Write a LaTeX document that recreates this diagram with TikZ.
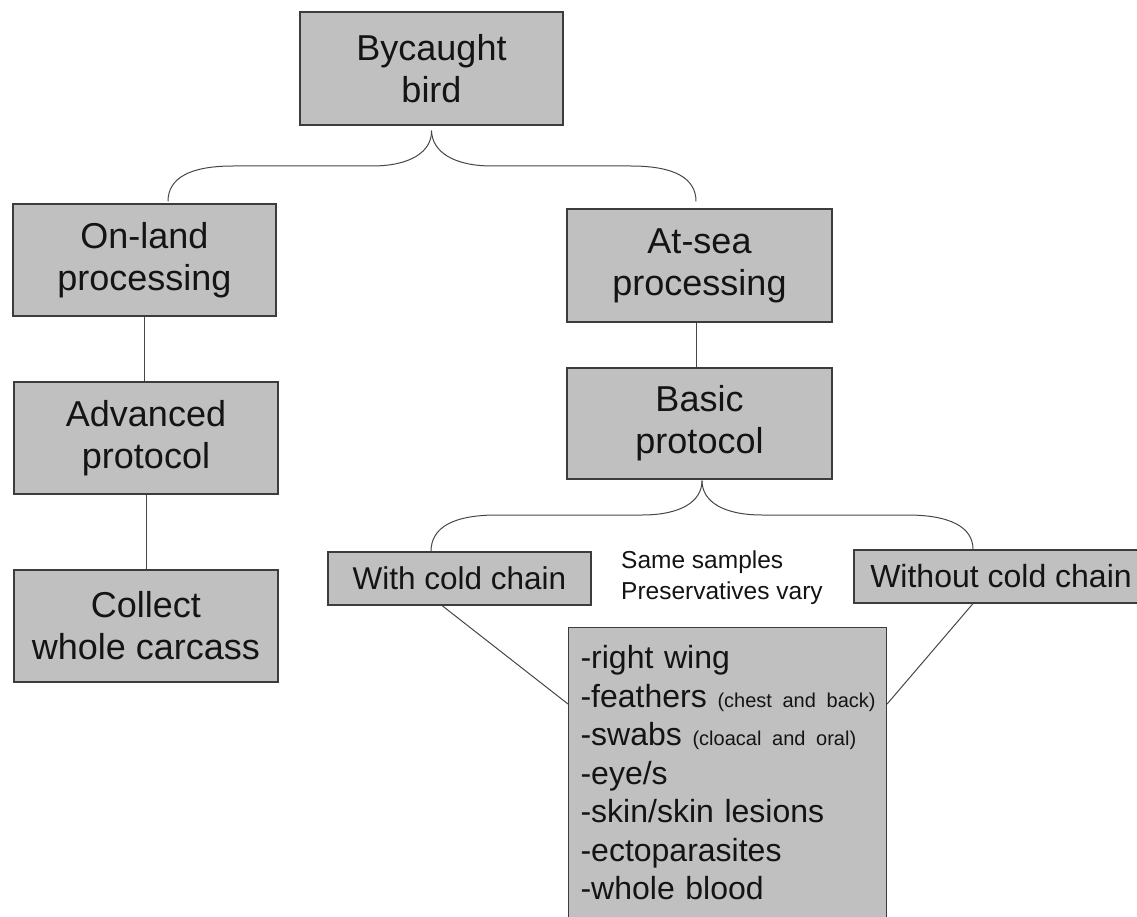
\documentclass[tikz,border=0pt]{standalone}
\usepackage{fontspec}
\setmainfont{Liberation Sans}
\usetikzlibrary{calc}
\definecolor{boxfill}{RGB}{192,192,192}
\definecolor{boxline}{RGB}{60,60,60}
\definecolor{connc}{RGB}{70,70,70}
\definecolor{textc}{RGB}{20,20,20}
\newcommand{\paren}[1]{{\fontsize{20}{20}\selectfont #1}}
\begin{document}
\begin{tikzpicture}[x=1pt,y=-1pt,
  box/.style={draw=boxline, fill=boxfill, line width=1.1pt, inner sep=0pt,
    align=center, text=textc, font=\fontsize{36}{42}\selectfont},
  smallbox/.style={box, font=\fontsize{31.5}{36}\selectfont, minimum height=53pt},
  conn/.style={draw=connc, line width=1pt},
  notetext/.style={inner sep=0pt, align=left, text=textc, font=\fontsize{24.5}{31}\selectfont}]
\useasboundingbox (0,0) rectangle (1137,917);
\clip (0,0) rectangle (1137,917);

% boxes
\node[box, minimum width=263pt, minimum height=113pt] (bird) at (431.5,68.5) {Bycaught\\bird};
\node[box, minimum width=263pt, minimum height=112pt] (onland) at (144.5,260) {On-land\\processing};
\node[box, minimum width=264pt, minimum height=112pt] (adv) at (146,438) {Advanced\\protocol};
\node[box, minimum width=264pt, minimum height=112pt] (collect) at (146,626) {Collect\\whole carcass};
\node[box, minimum width=265pt, minimum height=113pt] (atsea) at (699.5,265.5) {At-sea\\processing};
\node[box, minimum width=265pt, minimum height=111pt] (basic) at (699.5,423.5) {Basic\\protocol};
\node[smallbox, minimum width=263pt] (with) at (459.5,578.5) {With cold chain};
\node[smallbox, minimum width=294pt, font=\fontsize{32}{36}\selectfont] (without) at (1001,576.5) {Without cold chain};
\node[notetext, anchor=north west] (note) at (621,551) {Same samples\\Preservatives vary};
\node[box, anchor=north west, align=left, inner xsep=12pt, inner ysep=18pt, text width=294pt,
      font=\fontsize{32}{38.5}\selectfont] (samples) at (568,627)
  {\mbox{-right wing}\\
   \mbox{-feathers \paren{(chest and back)}}\\
   \mbox{-swabs \paren{(cloacal and oral)}}\\
   \mbox{-eye/s}\\
   \mbox{-skin/skin lesions}\\
   \mbox{-ectoparasites}\\
   \mbox{-whole blood}};

% brace from Bycaught bird
\coordinate (t1) at ([yshift=-5pt]bird.south);
\coordinate (b1L) at ([xshift=23.5pt,yshift=2pt]onland.north);
\coordinate (b1R) at ([xshift=-3.5pt,yshift=7pt]atsea.north);
\draw[conn] (t1) .. controls (432,152) and (410,166) .. (372,166) -- (233,166)
  .. controls (190,166) and (168,178) .. (b1L);
\draw[conn] (t1) .. controls (432,152) and (454,166) .. (492,166) -- (631,166)
  .. controls (674,166) and (696,178) .. (b1R);

% brace from Basic protocol
\coordinate (t2) at ([xshift=2.5pt,yshift=-1pt]basic.south);
\coordinate (b2L) at ([xshift=-28.5pt]with.north);
\coordinate (b2R) at ([xshift=-28pt]without.north);
\draw[conn] (t2) .. controls (702,502) and (680,515) .. (642,515) -- (497,515)
  .. controls (454,515) and (431,527) .. (b2L);
\draw[conn] (t2) .. controls (702,502) and (724,515) .. (762,515) -- (907,515)
  .. controls (950,515) and (973,527) .. (b2R);

% straight connectors
\draw[conn] (onland.south) -- (onland.south |- adv.north);
\draw[conn] (adv.south) -- (adv.south |- collect.north);
\draw[conn] ([xshift=-3.5pt]atsea.south) -- ([xshift=-3.5pt]atsea.south |- basic.north);
\draw[conn] ([xshift=-17.5pt]with.south) -- ([yshift=-77pt]samples.north west);
\draw[conn] ([xshift=-28pt]without.south) -- ([yshift=-77pt]samples.north east);
\end{tikzpicture}
\end{document}
